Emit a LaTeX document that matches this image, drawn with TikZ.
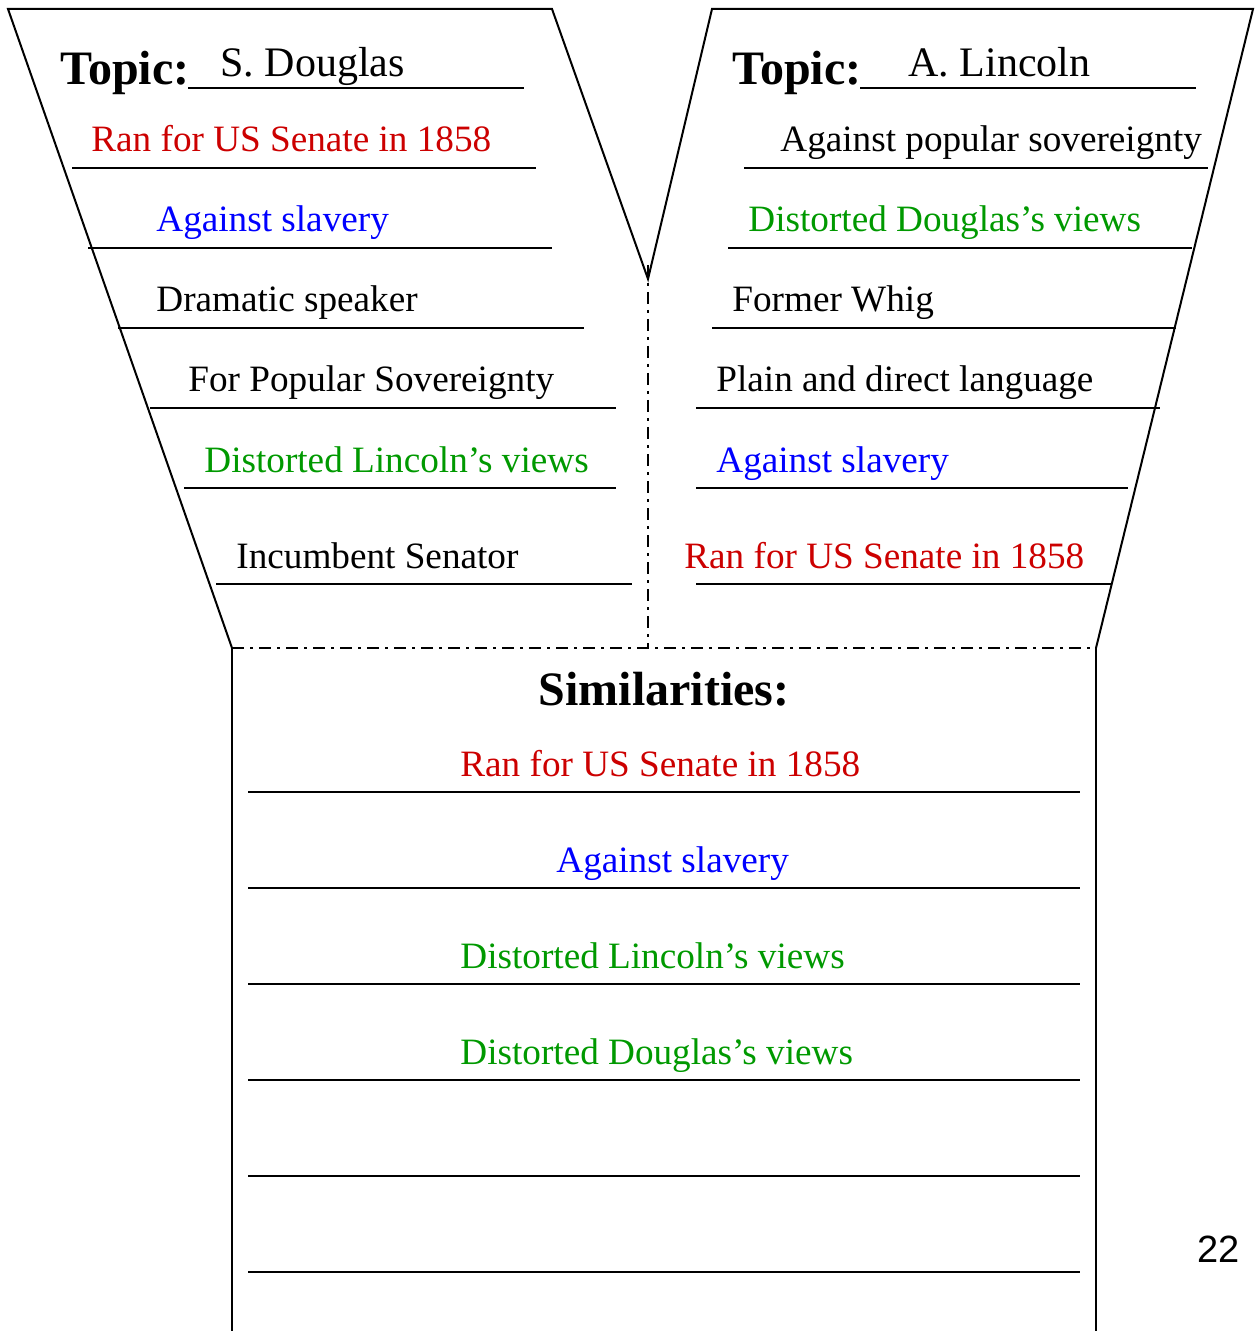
\documentclass[tikz,border=0pt]{standalone}
\usepackage{fontspec}
\setmainfont{Liberation Serif}
\newfontfamily\pagefont{Liberation Sans}
\definecolor{senred}{RGB}{204,0,0}
\definecolor{slavblue}{RGB}{0,0,255}
\definecolor{distgreen}{RGB}{0,153,0}
\begin{document}
\begin{tikzpicture}[x=0.5pt,y=-0.5pt,
    entry/.style={anchor=base west,inner sep=0pt,font=\fontsize{18.6}{22}\selectfont},
    topichead/.style={anchor=base west,inner sep=0pt,font=\fontsize{24}{28}\selectfont\bfseries},
    person/.style={anchor=base west,inner sep=0pt,font=\fontsize{21}{25}\selectfont},
    writeline/.style={line width=1pt},
    funnel/.style={line width=1pt,line join=miter},
    fold/.style={line width=1pt,dash pattern=on 6pt off 3pt on 1.5pt off 3pt}]
  \useasboundingbox (0,0) rectangle (1259,1331);
  % outline
  \coordinate (bl) at (232,648);
  \coordinate (br) at (1096,648);
  \coordinate (v) at (648,279);
  \draw[funnel] (bl) -- (8,9) -- (552,9) -- (v) -- (712,9) -- (1253,9) -- (br);
  \draw[funnel] (bl) -- (232,1331);
  \draw[funnel] (br) -- (1096,1331);
  \draw[fold] (648,265) -- (648,648);
  \draw[fold] (bl) -- (br);
  % headings
  \node[topichead] (ltopic) at (60,85) {Topic:};
  \node[person] (lname) at (220,77) {S. Douglas};
  \draw[writeline] (188,88) -- (524,88);
  \node[topichead] (rtopic) at (732,85) {Topic:};
  \node[person] (rname) at (908,77) {A. Lincoln};
  \draw[writeline] (860,88) -- (1196,88);
  % left side
  \node[entry,text=senred] (l1) at (91,152) {Ran for US Senate in 1858};
  \node[entry,text=slavblue] (l2) at (156,232) {Against slavery};
  \node[entry] (l3) at (156,312) {Dramatic speaker};
  \node[entry] (l4) at (188,392) {For Popular Sovereignty};
  \node[entry,text=distgreen] (l5) at (204,472) {Distorted Lincoln’s views};
  \node[entry] (l6) at (236,568) {Incumbent Senator};
  \draw[writeline] (72,168) -- (536,168);
  \draw[writeline] (88,248) -- (552,248);
  \draw[writeline] (118,328) -- (584,328);
  \draw[writeline] (150,408) -- (616,408);
  \draw[writeline] (184,488) -- (616,488);
  \draw[writeline] (216,584) -- (632,584);
  % right side
  \node[entry] (r1) at (780,152) {Against popular sovereignty};
  \node[entry,text=distgreen] (r2) at (748,232) {Distorted Douglas’s views};
  \node[entry] (r3) at (732,312) {Former Whig};
  \node[entry] (r4) at (716,392) {Plain and direct language};
  \node[entry,text=slavblue] (r5) at (716,472) {Against slavery};
  \node[entry,text=senred] (r6) at (684,568) {Ran for US Senate in 1858};
  \draw[writeline] (744,168) -- (1208,168);
  \draw[writeline] (728,248) -- (1192,248);
  \draw[writeline] (712,328) -- (1176,328);
  \draw[writeline] (696,408) -- (1160,408);
  \draw[writeline] (696,488) -- (1128,488);
  \draw[writeline] (696,584) -- (1112,584);
  % similarities
  \node[topichead,anchor=base] (sim) at (664,705) {Similarities:};
  \node[entry,text=senred] (s1) at (460,776) {Ran for US Senate in 1858};
  \node[entry,text=slavblue] (s2) at (556,872) {Against slavery};
  \node[entry,text=distgreen] (s3) at (460,968) {Distorted Lincoln’s views};
  \node[entry,text=distgreen] (s4) at (460,1064) {Distorted Douglas’s views};
  \foreach \y in {792,888,984,1080,1176,1272}
    \draw[writeline] (248,\y) -- (1080,\y);
  \node[anchor=base east,inner sep=0pt,font=\pagefont\fontsize{19}{22}\selectfont] (page) at (1240,1262) {22};
\end{tikzpicture}
\end{document}
